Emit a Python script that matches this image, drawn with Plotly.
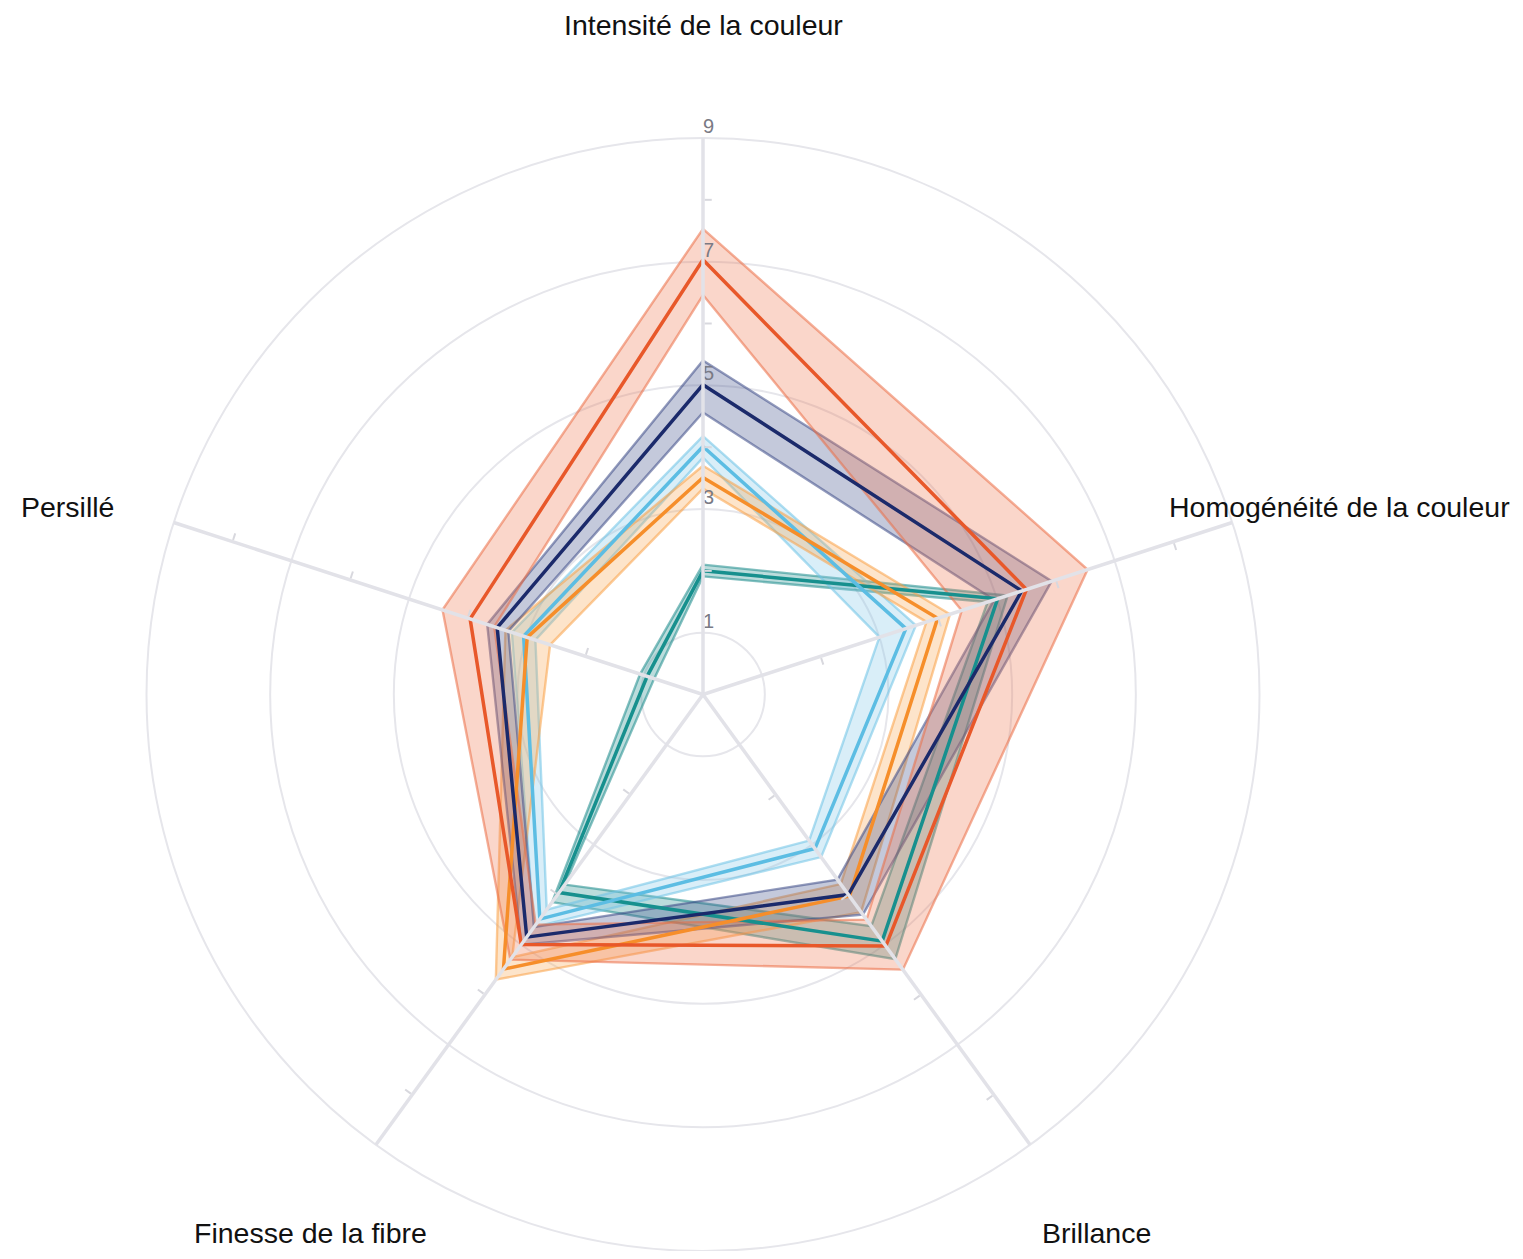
import plotly.graph_objects as go

categories = ["Intensité de la couleur", "Homogénéité de la couleur", "Brillance",
              "Finesse de la fibre", "Persillé"]

radial_ticks = [1, 3, 5, 7, 9]
minor_ticks = [2, 4, 6, 8]

# series: mean, upper, lower
red_mean = [7.03, 5.50, 5.03, 5.00, 3.96]
red_up = [7.53, 6.54, 5.50, 5.30, 4.43]
red_lo = [6.46, 4.40, 4.50, 4.60, 3.55]

navy_mean = [5.01, 5.42, 4.00, 4.85, 3.50]
navy_up = [5.40, 5.93, 4.40, 5.00, 3.67]
navy_lo = [4.56, 4.95, 3.70, 4.65, 3.31]

lblue_mean = [4.01, 3.45, 3.08, 4.49, 3.05]
lblue_up = [4.18, 3.62, 3.25, 4.65, 3.25]
lblue_lo = [3.83, 3.00, 2.92, 4.30, 2.85]

orange_mean = [3.51, 3.99, 4.03, 5.49, 2.99]
orange_up = [3.70, 4.20, 4.35, 5.70, 3.36]
orange_lo = [3.33, 3.80, 3.79, 5.25, 2.60]

teal_mean = [2.00, 5.01, 4.93, 3.96, 0.95]
teal_up = [2.10, 5.18, 5.29, 4.15, 1.07]
teal_lo = [1.91, 4.84, 4.63, 3.80, 0.83]

series = [
    # (mean, up, lo, line colour, fill colour, edge colour)
    (teal_mean, teal_up, teal_lo, "#17908e", "rgba(30,140,140,0.30)", "rgba(30,140,140,0.55)"),
    (lblue_mean, lblue_up, lblue_lo, "#5cbde3", "rgba(130,200,232,0.30)", "rgba(110,195,230,0.55)"),
    (orange_mean, orange_up, orange_lo, "#f68e2a", "rgba(250,165,80,0.30)", "rgba(250,160,70,0.55)"),
    (navy_mean, navy_up, navy_lo, "#1b2a6b", "rgba(60,75,135,0.30)", "rgba(60,75,135,0.55)"),
    (red_mean, red_up, red_lo, "#e8582a", "rgba(240,120,80,0.30)", "rgba(235,110,70,0.55)"),
]

def closed(v):
    return list(v) + [v[0]]

theta_closed = closed(categories)
rev_idx = [0, 4, 3, 2, 1, 0]

fig = go.Figure()

# bands
for mean, up, lo, lc, fc, ec in series:
    r_ring = closed(up) + [lo[i] for i in rev_idx]
    t_ring = theta_closed + [categories[i] for i in rev_idx]
    fig.add_trace(go.Scatterpolar(r=r_ring, theta=t_ring, mode="lines", fill="toself",
                                  fillcolor=fc, line=dict(width=0, color=fc),
                                  hoverinfo="skip", showlegend=False))
    for edge in (up, lo):
        fig.add_trace(go.Scatterpolar(r=closed(edge), theta=theta_closed, mode="lines",
                                      line=dict(color=ec, width=2.4),
                                      hoverinfo="skip", showlegend=False))
# main lines
for mean, up, lo, lc, fc, ec in series:
    fig.add_trace(go.Scatterpolar(r=closed(mean), theta=theta_closed, mode="lines",
                                  line=dict(color=lc, width=3.5), showlegend=False))

# radial tick labels, placed beside the top spoke through the polar scale
fig.add_trace(go.Scatterpolar(r=radial_ticks, theta=[categories[0]] * len(radial_ticks),
                              mode="text", text=[str(v) for v in radial_ticks],
                              textposition="top right",
                              textfont=dict(size=20, color="#7a7a84",
                                            family="Liberation Sans, Arial, sans-serif"),
                              hoverinfo="skip", showlegend=False))

# page has an 8px body margin: figure is placed at (8, 8) in the window
OFF = 8
W, H = 1523 - 2 * OFF, 1259 - 2 * OFF
cx, cy = 703 - OFF, 695 - OFF       # centre in figure pixels
half = 556.5
dom_x = [(cx - half) / W, (cx + half) / W]
dom_y = [0, 2 * half / H]

layout = dict(
    width=W, height=H,
    margin=dict(l=0, r=0, t=0, b=0),
    paper_bgcolor="white",
    showlegend=False,
    font=dict(family="Liberation Sans, Arial, sans-serif"),
    polar=dict(
        domain=dict(x=dom_x, y=dom_y),
        bgcolor="rgba(0,0,0,0)",
        angularaxis=dict(direction="clockwise", rotation=90, categoryarray=categories,
                         showgrid=False, showline=True, linecolor="#e6e6eb", linewidth=2,
                         showticklabels=False, ticks=""),
        radialaxis=dict(range=[0, 9], angle=90, tickvals=radial_ticks,
                        showticklabels=False,
                        showline=False, ticks="", gridcolor="#e6e6eb", gridwidth=2),
    ),
)

spoke_angles = [90, 18, -54, -126, 162]
for i, ang in enumerate(spoke_angles):
    name = "polar%d" % (i + 2)
    layout[name] = dict(
        domain=dict(x=dom_x, y=dom_y),
        bgcolor="rgba(0,0,0,0)",
        angularaxis=dict(visible=False),
        radialaxis=dict(range=[0, 9], angle=ang, showline=True, linecolor="#e2e2e8",
                        linewidth=3.5, showgrid=False, ticks="outside", tickvals=minor_ticks,
                        ticklen=7, tickwidth=1.5, tickcolor="#d8d8de", showticklabels=False),
    )
    fig.add_trace(go.Scatterpolar(r=[0], theta=[0], mode="markers", subplot=name,
                                  marker=dict(size=1, opacity=0), hoverinfo="skip",
                                  showlegend=False))

# label centres in window pixels; bottom labels anchored to the bottom edge
label_specs = [
    (703, 25, "middle"),
    (1339, 507, "middle"),
    (1096, None, "bottom"),
    (310, None, "bottom"),
    (67, 507, "middle"),
]
annotations = []
for cat, (px, py, anchor) in zip(categories, label_specs):
    yv = 0 if py is None else 1 - (py - OFF) / H
    annotations.append(dict(text=cat, x=(px - OFF) / W, y=yv, xref="paper", yref="paper",
                            xanchor="center", yanchor=anchor, showarrow=False,
                            font=dict(size=28.5, color="#111111",
                                      family="Liberation Sans, Arial, sans-serif")))
layout["annotations"] = annotations

fig.update_layout(**layout)
fig.write_html("out.html")
